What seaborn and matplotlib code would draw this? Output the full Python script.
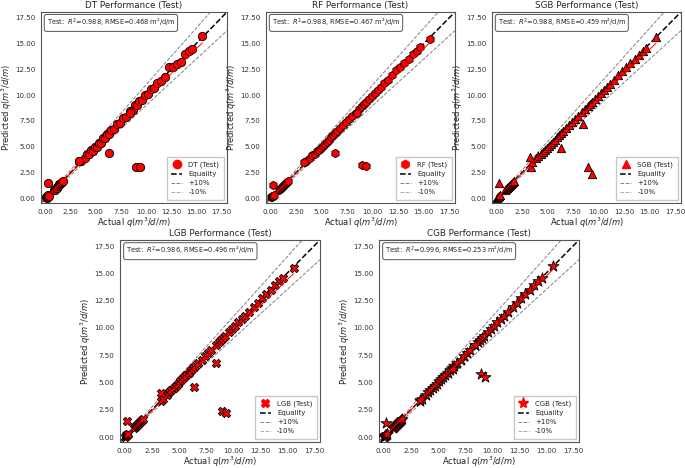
"""
Actual vs predicted q for the five tree models on the test set.
"""
import numpy as np
import pandas as pd
import matplotlib
matplotlib.use("Agg")
import matplotlib.pyplot as plt
from matplotlib.ticker import FormatStrFormatter
from matplotlib.lines import Line2D
import seaborn as sns

# shared actual values (test set)
actual = [
    0.05, 0.10, 0.15, 0.20, 0.25, 0.30, 0.80, 0.90, 1.00, 1.10,
    1.20, 1.30, 1.40, 1.50, 1.60, 1.70, 3.35, 3.50, 3.90, 4.10,
    4.30, 4.50, 4.70, 4.90, 5.10, 5.30, 5.50, 5.70, 5.90, 6.10,
    6.30, 6.50, 6.80, 7.10, 7.40, 7.70, 8.00, 8.40, 8.70, 8.90,
    9.10, 9.30, 9.60, 9.90, 10.20, 10.50, 10.80, 11.10, 11.50, 11.90,
    12.30, 12.70, 13.10, 13.50, 13.90, 14.30, 14.60, 15.60, 6.35, 8.95,
    9.35, 8.45, 0.22, 3.30,
]

pred_dt = [
    0.10, 0.05, 0.20, 0.15, 0.30, 0.25, 0.85, 0.80, 1.05, 1.05,
    1.15, 1.35, 1.35, 1.45, 1.55, 1.65, 3.60, 3.60, 3.90, 4.30,
    4.30, 4.70, 4.60, 5.00, 5.00, 5.40, 5.40, 5.80, 5.80, 6.20,
    6.20, 6.60, 6.70, 7.20, 7.30, 7.80, 7.90, 8.50, 8.60, 9.00,
    9.00, 9.40, 9.50, 10.00, 10.10, 10.60, 10.70, 11.20, 11.40, 11.80,
    12.70, 12.70, 13.00, 13.20, 14.00, 14.30, 14.50, 15.70, 4.40, 3.00,
    3.00, 8.30, 1.50, 3.60,
]

pred_rf = [
    0.10, 0.10, 0.20, 0.20, 0.25, 0.30, 0.80, 0.90, 1.00, 1.10,
    1.20, 1.30, 1.40, 1.50, 1.60, 1.65, 3.50, 3.60, 3.90, 4.20,
    4.30, 4.60, 4.70, 4.90, 5.10, 5.30, 5.50, 5.70, 5.90, 6.10,
    6.30, 6.50, 6.80, 7.10, 7.40, 7.70, 8.00, 8.30, 8.70, 8.90,
    9.10, 9.30, 9.60, 9.90, 10.20, 10.50, 10.80, 11.20, 11.50, 11.90,
    12.40, 12.70, 13.10, 13.50, 14.00, 14.30, 14.70, 15.40, 4.40, 3.20,
    3.10, 8.30, 1.30, 3.50,
]

pred_sgb = [
    0.05, 0.10, 0.15, 0.20, 0.25, 0.30, 0.80, 0.90, 1.00, 1.10,
    1.20, 1.30, 1.40, 1.50, 1.60, 1.70, 3.00, 3.50, 3.90, 4.10,
    4.30, 4.50, 4.70, 4.90, 5.10, 5.30, 5.50, 5.70, 5.90, 6.10,
    6.30, 6.50, 6.80, 7.10, 7.40, 7.70, 8.00, 8.40, 8.70, 8.90,
    9.10, 9.30, 9.60, 9.90, 10.20, 10.50, 10.80, 11.10, 11.50, 11.90,
    12.30, 12.70, 13.10, 13.50, 13.90, 14.30, 14.60, 15.60, 4.90, 3.00,
    2.40, 7.20, 1.50, 4.00,
]

pred_lgb = [
    0.05, 0.10, 0.15, 0.20, 0.25, 0.30, 0.80, 0.90, 1.00, 1.10,
    1.20, 1.30, 1.40, 1.50, 1.60, 1.70, 3.30, 3.50, 3.90, 4.10,
    4.30, 4.50, 4.70, 4.90, 5.10, 5.30, 5.50, 5.70, 5.90, 6.10,
    6.30, 6.50, 6.80, 7.10, 7.40, 7.70, 8.00, 8.40, 8.70, 8.90,
    9.10, 9.30, 9.60, 9.90, 10.20, 10.50, 10.80, 11.10, 11.50, 11.90,
    12.30, 12.70, 13.10, 13.50, 13.90, 14.30, 14.60, 15.50, 4.60, 2.40,
    2.20, 6.80, 1.50, 4.00,
]

pred_cgb = [
    0.05, 0.10, 0.15, 0.20, 0.25, 0.30, 0.80, 0.90, 1.00, 1.10,
    1.20, 1.30, 1.40, 1.50, 1.60, 1.70, 3.35, 3.50, 3.90, 4.10,
    4.30, 4.50, 4.70, 4.90, 5.10, 5.30, 5.50, 5.70, 5.90, 6.10,
    6.30, 6.50, 6.80, 7.10, 7.40, 7.70, 8.00, 8.40, 8.70, 8.90,
    9.10, 9.30, 9.60, 9.90, 10.20, 10.50, 10.80, 11.10, 11.50, 11.90,
    12.30, 12.70, 13.10, 13.50, 13.90, 14.30, 14.60, 15.70, 6.20, 5.80,
    5.50, 8.40, 1.30, 3.40,
]

models = ["DT", "RF", "SGB", "LGB", "CGB"]
markers = ["o", "h", "^", "X", "*"]
r2 = [0.988, 0.988, 0.988, 0.986, 0.996]
rmse = [0.468, 0.467, 0.459, 0.496, 0.253]
preds = [pred_dt, pred_rf, pred_sgb, pred_lgb, pred_cgb]

W, H = 685, 468
# axes boxes in pixels: left, top, right, bottom
boxes = [
    (41, 12, 227, 203),
    (266, 12, 455, 203),
    (492, 12, 681, 203),
    (120, 240, 320, 442),
    (379, 240, 579, 442),
]
LIM = (-0.45, 18.05)


def plot_model(ax, name, marker, pred, r2_val, rmse_val):
    df = pd.DataFrame({"actual": actual, "pred": pred})
    xs = np.array(LIM)
    ax.plot(xs, xs, ls="--", color="black", lw=1.1, zorder=2)
    ax.plot(xs, xs * 1.1, ls="--", color="gray", lw=0.7, zorder=2)
    ax.plot(xs, xs * 0.9, ls="--", color="gray", lw=0.7, zorder=2)
    size = 70 if marker == "*" else 36
    sns.scatterplot(data=df, x="actual", y="pred", marker=marker, s=size,
                    color="red", edgecolor="black", linewidth=0.6,
                    ax=ax, zorder=3, legend=False)
    sns.regplot(data=df, x="actual", y="pred", scatter=False, ci=None,
                color="red", line_kws={"lw": 0.7, "zorder": 4}, ax=ax)

    ax.set_xlim(LIM)
    ax.set_ylim(LIM)
    ticks = np.arange(0, 17.6, 2.5)
    ax.set_xticks(ticks)
    ax.set_yticks(ticks)
    ax.xaxis.set_major_formatter(FormatStrFormatter("%.2f"))
    ax.yaxis.set_major_formatter(FormatStrFormatter("%.2f"))
    ax.tick_params(labelsize=5.1, colors="#333333", length=2.5, width=0.6, pad=1.5)
    for sp in ax.spines.values():
        sp.set_color("#555555")
        sp.set_linewidth(0.8)
    ax.set_xlabel("Actual $q(m^3/d/m)$", fontsize=6, color="#222222", labelpad=1)
    ax.set_ylabel("Predicted $q(m^3/d/m)$", fontsize=6, color="#222222", labelpad=1)
    ax.set_title(f"{name} Performance (Test)", fontsize=6.3, pad=3)

    ax.text(0.03, 0.975, f"Test:  $R^2$={r2_val:.3f}, RMSE={rmse_val:.3f} m\u00b2/d/m",
            transform=ax.transAxes, ha="left", va="top", fontsize=4.8,
            bbox=dict(boxstyle="round,pad=0.35", fc="white", ec="#555555", lw=0.7))

    handles = [
        Line2D([], [], ls="", marker=marker, ms=8 if marker == "*" else 6,
               mfc="red", mec="red", label=f"{name} (Test)"),
        Line2D([], [], ls="--", color="black", lw=1.1, label="Equality"),
        Line2D([], [], ls="--", color="gray", lw=0.7, label="+10%"),
        Line2D([], [], ls="--", color="darkgray", lw=0.7, label="-10%"),
    ]
    ax.legend(handles=handles, loc="lower right", fontsize=5,
              frameon=True, fancybox=False, edgecolor="#bbbbbb",
              handlelength=1.6, borderpad=0.6, labelspacing=0.45,
              handletextpad=0.9)


def main():
    sns.set_style("white")
    fig = plt.figure(figsize=(W / 100, H / 100), dpi=100)
    for i, name in enumerate(models):
        l, t, r, b = boxes[i]
        ax = fig.add_axes([l / W, 1 - b / H, (r - l) / W, (b - t) / H])
        plot_model(ax, name, markers[i], preds[i], r2[i], rmse[i])
    fig.savefig("out.png", dpi=100)


if __name__ == "__main__":
    main()
